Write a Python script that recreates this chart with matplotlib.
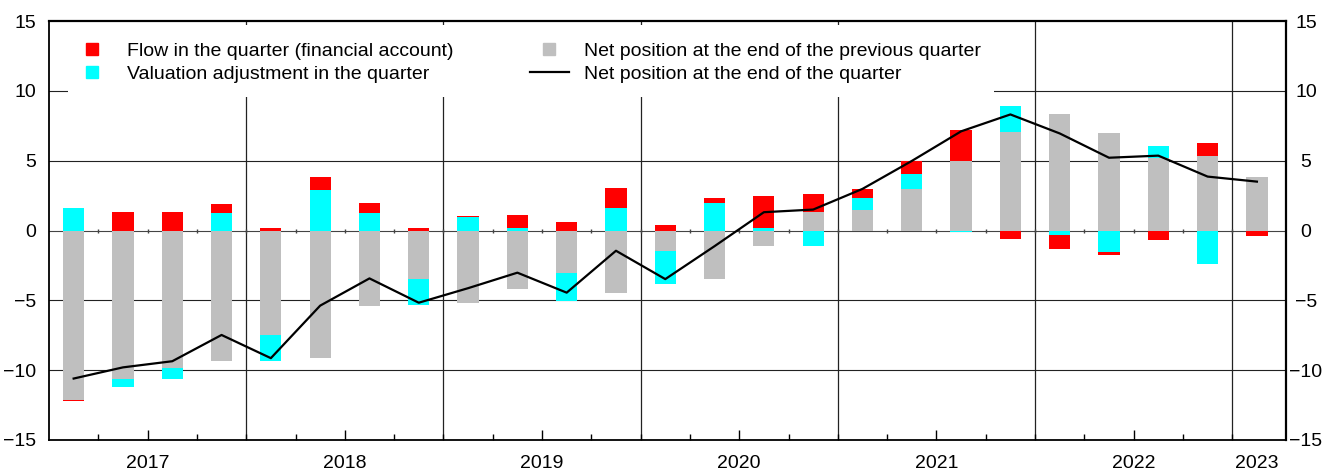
import numpy as np
import matplotlib
matplotlib.use("Agg")
import matplotlib.pyplot as plt
import matplotlib.transforms as mtransforms
from matplotlib.lines import Line2D
from matplotlib.patches import Rectangle

plt.rcParams["font.family"] = ["Liberation Sans", "DejaVu Sans"]
plt.rcParams["font.size"] = 14

# quarters 2017Q1 .. 2023Q1
years = ["2017", "2018", "2019", "2020", "2021", "2022", "2023"]
quarters_per_year = [4, 4, 4, 4, 4, 4, 1]
y_ticks = [-15, -10, -5, 0, 5, 10, 15]

# net position at the end of the previous quarter (grey bars)
prev_pos = [-12.14, -10.60, -9.81, -9.33, -7.45, -9.14, -5.38, -3.45,
            -5.17, -4.17, -3.05, -4.48, -1.45, -3.48, -1.14, 1.31,
            1.50, 2.98, 4.98, 7.07, 8.31, 6.95, 5.21, 5.33, 3.86]
# valuation adjustment in the quarter (cyan)
valuation = [1.60, -0.60, -0.81, 1.26, -1.90, 2.90, 1.24, -1.88,
             0.95, 0.21, -2.00, 1.64, -2.36, 2.00, 0.19, -1.14,
             0.86, 1.05, -0.12, 1.83, -0.31, -1.55, 0.83, -2.40, 0.0]
# flow in the quarter, financial account (red)
flow = [-0.05, 1.36, 1.29, 0.62, 0.19, 0.90, 0.71, 0.17,
        0.07, 0.90, 0.60, 1.40, 0.36, 0.33, 2.26, 1.33,
        0.62, 0.95, 2.24, -0.62, -1.05, -0.19, -0.69, 0.95, -0.36]
# net position at the end of the quarter (line)
end_pos = [-10.60, -9.80, -9.36, -7.48, -9.14, -5.38, -3.43, -5.17,
           -4.13, -3.02, -4.45, -1.45, -3.48, -1.12, 1.31, 1.50,
           2.98, 4.98, 7.10, 8.31, 6.95, 5.21, 5.36, 3.86, 3.50]

n = len(prev_pos)
x = np.arange(n)

fig = plt.figure(figsize=(13.28, 4.72), dpi=100)
ax = fig.add_axes([49 / 1328, 32 / 472, 1237 / 1328, 419 / 472])

# grid lines
for y in (-10, -5, 5, 10):
    ax.axhline(y, color="#222222", lw=0.8, zorder=0)
ax.axhline(0, color="#444444", lw=0.8, zorder=0)

bounds = np.cumsum(quarters_per_year)[:-1] - 0.5
for b in bounds:
    ax.axvline(b, color="#222222", lw=0.9, zorder=0)

# stacked bars, positives and negatives stacked separately
pos_base = np.zeros(n)
neg_base = np.zeros(n)
series = [(prev_pos, "#BFBFBF"), (valuation, "#00FFFF"), (flow, "#FF0000")]
for vals, col in series:
    v = np.array(vals)
    bottom = np.where(v >= 0, pos_base, neg_base)
    ax.bar(x, v, width=0.43, bottom=bottom, color=col, linewidth=0, zorder=2)
    pos_base = pos_base + np.clip(v, 0, None)
    neg_base = neg_base + np.clip(v, None, 0)

ax.plot(x, end_pos, color="black", lw=1.6, zorder=3)

# small marks on the zero line at quarter boundaries
qb = np.arange(n - 1) + 0.5
ax.plot(qb, np.zeros(len(qb)), "|", color="#444444", ms=3, mew=1, zorder=1)

ax.set_xlim(-0.5, n - 0.41)
ax.set_ylim(-15, 15)
ax.set_yticks(y_ticks)
ax.tick_params(axis="y", left=False, right=False, labelleft=True,
               labelright=False, pad=6)

# right-hand labels, centred just right of the spine
trans = mtransforms.blended_transform_factory(ax.transAxes, ax.transData)
for v in y_ticks:
    ax.text(1.0162, v, f"{v}".replace("-", "\u2212"), transform=trans,
            ha="center", va="center_baseline", clip_on=False)

# year labels centred on each year
label_pos = []
start = 0
for q in quarters_per_year:
    label_pos.append(start + (q - 1) / 2)
    start += q
ax.set_xticks(label_pos)
ax.set_xticklabels(years)
ax.set_xticks(qb, minor=True)
ax.tick_params(axis="x", which="major", direction="in", length=7.5, width=1, pad=11)
ax.tick_params(axis="x", which="minor", direction="in", length=4.5, width=1)
ax.xaxis.get_major_ticks()[-1].tick1line.set_visible(False)

for s in ax.spines.values():
    s.set_linewidth(1.3)
ax.spines["top"].set_linewidth(1.6)
ax.spines["right"].set_linewidth(1.6)

# white legend panel covering the grid
ax.add_patch(Rectangle((0.0154, 0.8186), 0.7486, 0.172, transform=ax.transAxes,
                       facecolor="white", edgecolor="none", zorder=4))

handles = [
    Line2D([], [], ls="none", marker="s", ms=8, color="#FF0000"),
    Line2D([], [], ls="none", marker="s", ms=8, color="#00FFFF"),
    Line2D([], [], ls="none", marker="s", ms=8, color="#BFBFBF"),
    Line2D([], [], color="black", lw=1.6),
]
labels = ["Flow in the quarter (financial account)",
          "Valuation adjustment in the quarter",
          "Net position at the end of the previous quarter",
          "Net position at the end of the quarter"]
leg = ax.legend(handles, labels, ncol=2, loc="upper left",
                bbox_to_anchor=(0.0194, 0.950), frameon=False, borderpad=0,
                handlelength=2.0, handletextpad=0.8, columnspacing=3.9,
                labelspacing=0.3, borderaxespad=0)
leg.set_zorder(5)

fig.savefig("out.png", dpi=100)
